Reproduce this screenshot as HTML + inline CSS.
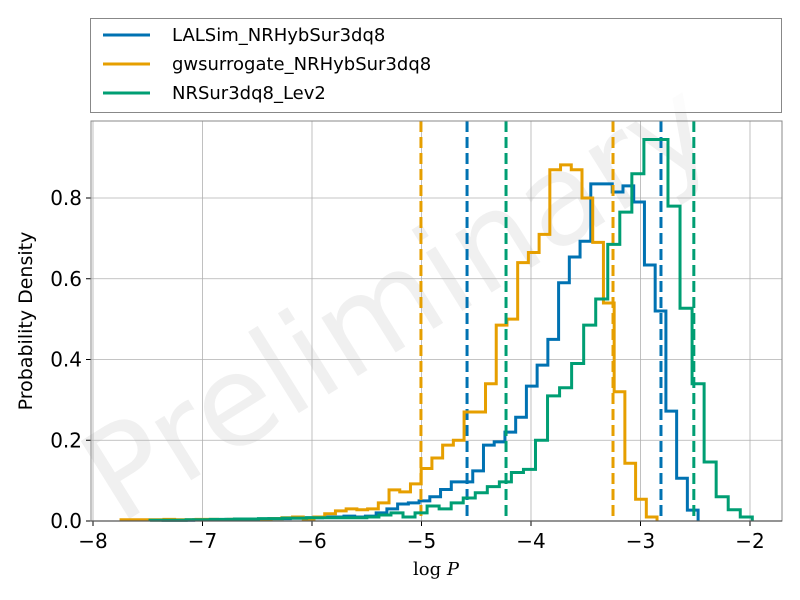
<!DOCTYPE html>
<html><head><meta charset="utf-8"><style>
html,body{margin:0;padding:0;background:#fff;width:800px;height:600px;overflow:hidden}
svg{display:block;font-family:"DejaVu Sans","Liberation Sans",sans-serif}
</style></head><body>
<svg id="chart" width="800" height="600">
<text x="410" y="340" font-size="126" fill="#000" fill-opacity="0.06" text-anchor="middle" transform="rotate(-32 410 320)">Preliminary</text>
<g id="grid"></g><g id="marks"></g><g id="axes"></g>
<g id="legend">
<rect x="90.5" y="18.5" width="691" height="94" fill="#fff" fill-opacity="0.8" stroke="#888" stroke-width="1"/>
</g>
<text x="436" y="575" font-family="'DejaVu Serif','Liberation Serif',serif" font-size="18" text-anchor="middle">log <tspan font-style="italic">P</tspan></text>
<text x="0" y="0" font-size="19" text-anchor="middle" transform="translate(32 321) rotate(-90)">Probability Density</text>
</svg>
<script>
const seriesNames = ["LALSim_NRHybSur3dq8","gwsurrogate_NRHybSur3dq8","NRSur3dq8_Lev2"];
const seriesColors = ["#0072b2","#e69f00","#009e73"];
const blueStart = -7.374, blueWidth = 0.098;
const orangeStart = -7.744, orangeWidth = 0.0979;
const greenStart = -7.479, greenWidth = 0.110;
const blueHeights = [0.002,0.002,0.002,0.003,0.003,0.003,0.004,0.004,0.005,0.005,0.006,0.006,0.007,0.008,0.008,0.01,0.01,0.012,0.01,0.012,0.02,0.03,0.042,0.045,
  0.05,0.06,0.078,0.097,0.097,0.124,0.188,0.196,0.22,0.257,0.334,0.386,0.45,0.59,0.654,0.693,0.835,0.835,0.815,0.83,0.79,0.634,0.52,0.272,0.106,0.027];
const orangeHeights = [0.003,0.003,0.003,0.003,0.004,0.003,0.003,0.004,0.004,0.003,0.004,0.004,0.004,0.005,0.006,0.008,0.01,0.005,0.01,0.018,0.025,0.03,0.028,0.03,0.045,0.077,0.072,0.092,
  0.13,0.156,0.188,0.2,0.27,0.27,0.34,0.485,0.5,0.64,0.665,0.71,0.87,0.882,0.87,0.8,0.69,0.54,0.32,0.143,0.054,0.01];
const greenHeights = [0.002,0.002,0.002,0.003,0.003,0.004,0.004,0.005,0.005,0.006,0.006,0.007,0.007,0.008,0.008,0.008,0.008,0.008,0.01,0.015,0.02,0.01,0.02,0.037,0.03,0.045,0.057,0.07,0.085,0.097,0.12,0.128,
  0.2,0.31,0.33,0.39,0.485,0.55,0.685,0.765,0.86,0.945,0.945,0.78,0.527,0.34,0.146,0.06,0.028,0.01];
const intervalLo = [-4.584,-5.005,-4.228];
const intervalHi = [-2.813,-3.251,-2.513];
const xTicks = [-8,-7,-6,-5,-4,-3,-2];
const yTicks = [0,0.2,0.4,0.6,0.8];

const L=91,R=782,T=121,B=521;
const xs = v => 93 + (v+8)*109.5;
const ys = d => 521 - d*403.75;
const NS="http://www.w3.org/2000/svg";
function mk(tag,attrs,parent){const e=document.createElementNS(NS,tag);for(const k in attrs)e.setAttribute(k,attrs[k]);parent.appendChild(e);return e;}
const grid=document.getElementById('grid'),marks=document.getElementById('marks'),axes=document.getElementById('axes'),legend=document.getElementById('legend');

xTicks.forEach(t=>{
  const x=xs(t);
  const g=mk('line',{x1:x,x2:x,y1:T,y2:B,stroke:'#b0b0b0','stroke-width':0.8},grid);
  
  
  const tk=mk('line',{x1:x,x2:x,y1:B,y2:B+5,stroke:'#000','stroke-width':1},axes);
  
  
  const lb=mk('text',{x:x,y:B+27,'font-size':20,'text-anchor':'middle'},axes);
  lb.textContent=(t<0?'\u2212':'')+Math.abs(t);
  
  
});
yTicks.forEach(t=>{
  const y=ys(t);
  const g=mk('line',{x1:L,x2:R,y1:y,y2:y,stroke:'#b0b0b0','stroke-width':0.8},grid);
  
  
  const tk=mk('line',{x1:L-5,x2:L,y1:y,y2:y,stroke:'#000','stroke-width':1},axes);
  
  
  const lb=mk('text',{x:L-9,y:y+7,'font-size':20,'text-anchor':'end'},axes);
  lb.textContent=t.toFixed(1);
  
  
});
const fr=mk('rect',{x:L,y:T,width:R-L,height:B-T,fill:'none',stroke:'#888','stroke-width':1},axes);



const starts=[blueStart,orangeStart,greenStart],widths=[blueWidth,orangeWidth,greenWidth],heights=[blueHeights,orangeHeights,greenHeights];
const keys=['lalsim','gwsurrogate','nrsur'];
for(let s=0;s<3;s++){
  let d='M'+xs(starts[s])+','+ys(0);
  heights[s].forEach((h,i)=>{
    const x0=xs(starts[s]+i*widths[s]),x1=xs(starts[s]+(i+1)*widths[s]);
    d+=' L'+x0+','+ys(h)+' L'+x1+','+ys(h);
  });
  d+=' L'+xs(starts[s]+heights[s].length*widths[s])+','+ys(0);
  const p=mk('path',{d:d,fill:'none',stroke:seriesColors[s],'stroke-width':3,'stroke-linejoin':'miter'},marks);
  
  
  [intervalLo[s],intervalHi[s]].forEach(v=>{
    const l=mk('line',{x1:xs(v),x2:xs(v),y1:T,y2:B,stroke:seriesColors[s],'stroke-width':3,'stroke-dasharray':'11,5'},marks);
    
    
  });
  const ly=35+s*29;
  const ll=mk('line',{x1:103,x2:150,y1:ly,y2:ly,stroke:seriesColors[s],'stroke-width':3},legend);
  
  
  const lt=mk('text',{x:172,y:ly+6,'font-size':18},legend);
  lt.textContent=seriesNames[s];
  
  
}
const bl=mk('line',{x1:L,x2:R,y1:B,y2:B,stroke:'#555','stroke-width':1.2},axes);


</script>
</body></html>
